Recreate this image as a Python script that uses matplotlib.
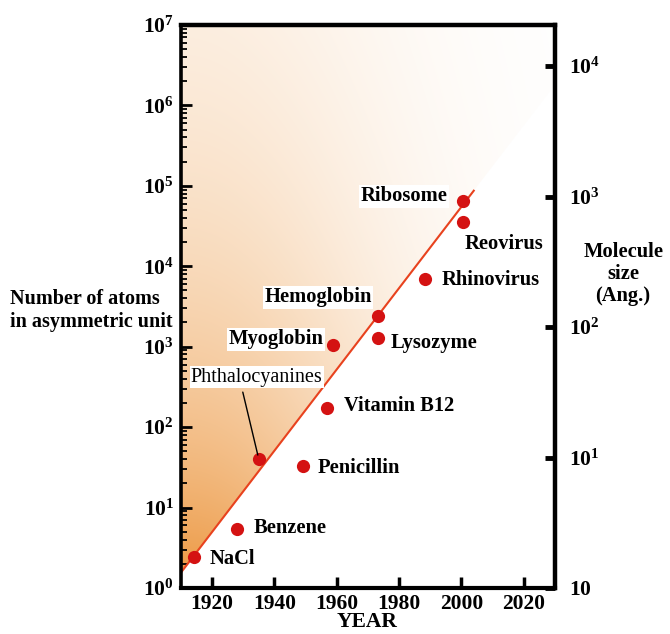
import numpy as np
import matplotlib
matplotlib.use("Agg")
import matplotlib.pyplot as plt
from matplotlib.patches import Polygon
from matplotlib.ticker import FixedLocator, NullLocator, LogLocator, NullFormatter

plt.rcParams["font.family"] = "Liberation Serif"
plt.rcParams["mathtext.fontset"] = "custom"
plt.rcParams["mathtext.rm"] = "Liberation Serif"
plt.rcParams["mathtext.bf"] = "Liberation Serif:bold"
plt.rcParams["mathtext.it"] = "Liberation Serif:italic"

# Structures solved, year of solution and number of atoms in the asymmetric unit
names = ["NaCl", "Benzene", "Phthalocyanines", "Penicillin", "Vitamin B12",
         "Myoglobin", "Hemoglobin", "Lysozyme", "Rhinovirus", "Reovirus", "Ribosome"]
years = [1914.3, 1927.9, 1935.0, 1949.2, 1956.9, 1958.9, 1973.3, 1973.3, 1988.3, 2000.4, 2000.4]
atoms = [2.4, 5.4, 40, 33, 175, 1040, 2390, 1290, 6850, 35300, 64600]

# Exponential trend line
trend_years = [1910, 2004]
trend_atoms = [1.55, 8.7e4]

# Axis ticks
year_ticks = [1920, 1940, 1960, 1980, 2000, 2020]
atom_ticks = [1e0, 1e1, 1e2, 1e3, 1e4, 1e5, 1e6, 1e7]
atom_labels = [r"$\mathbf{10^{%d}}$" % i for i in range(8)]
size_ticks = [1e0, 1e1, 1e2, 1e3, 1e4]
size_labels = [r"$\mathbf{10}$", r"$\mathbf{10^{1}}$", r"$\mathbf{10^{2}}$",
               r"$\mathbf{10^{3}}$", r"$\mathbf{10^{4}}$"]

# label placement (pixels: dx right, dy up), alignment, white box
label_style = {
    "NaCl": ((15, -2), "left", False),
    "Benzene": ((17, 1), "left", False),
    "Penicillin": ((15, -2), "left", False),
    "Vitamin B12": ((17, 2), "left", True),
    "Myoglobin": ((-10, 6), "right", True),
    "Hemoglobin": ((-60, 19), "center", True),
    "Lysozyme": ((12, -5), "left", False),
    "Rhinovirus": ((17, -1), "left", False),
    "Reovirus": ((41, -22), "center", False),
    "Ribosome": ((-15, 5), "right", True),
}

px = 0.72  # points per pixel at dpi 100

fig = plt.figure(figsize=(6.7, 6.34), dpi=100)
ax = fig.add_axes([0.270, 0.0726, 0.558, 0.888])
ax.set_yscale("log")
ax.set_xlim(1910, 2030)
ax.set_ylim(1, 1e7)

# Shaded region above the trend line, fading from orange to white
nu, nv = 300, 300
u = np.linspace(0, 1, nu)
v = np.linspace(0, 1, nv)
U, V = np.meshgrid(u, v)
alpha = np.exp(-1.8 * V) * np.exp(-3.0 * U ** 2)
base = np.array([236, 150, 62]) / 255.0
img = np.ones((nv, nu, 3))
for c in range(3):
    img[..., c] = 1 - alpha * (1 - base[c])
im = ax.imshow(img, extent=[0, 1, 0, 1], transform=ax.transAxes, origin="lower",
               aspect="auto", zorder=0, interpolation="bilinear")
slope = (np.log10(trend_atoms[1]) - np.log10(trend_atoms[0])) / (trend_years[1] - trend_years[0])
def trend(yr):
    return 10 ** (np.log10(trend_atoms[0]) + slope * (yr - trend_years[0]))
clip = Polygon([(1910, trend(1910)), (2030, trend(2030)), (2030, 1e7), (1910, 1e7)],
               closed=True, transform=ax.transData, facecolor="none", edgecolor="none")
im.set_clip_path(clip)
ax.set_xlim(1910, 2030)
ax.set_ylim(1, 1e7)

ax.plot(trend_years, trend_atoms, color="#e8421e", lw=1.5, zorder=2)
ax.plot(years, atoms, "o", color="#d41212", markersize=9.5, markeredgewidth=0, zorder=3)

for name, yr, n in zip(names, years, atoms):
    if name not in label_style:
        continue
    (dx, dy), ha, boxed = label_style[name]
    bbox = dict(facecolor="white", edgecolor="none", pad=1.0) if boxed else None
    ax.annotate(name, xy=(yr, n), xytext=(dx * px, dy * px), textcoords="offset points",
                ha=ha, va="center", fontsize=14.8, fontweight="bold", bbox=bbox, zorder=4)

# Phthalocyanines: label with leader line
i = names.index("Phthalocyanines")
ax.annotate("", xy=(years[i], atoms[i]), xytext=(-16 * px, 67 * px), textcoords="offset points",
            arrowprops=dict(arrowstyle="-", color="black", lw=1.0, shrinkA=0, shrinkB=3), zorder=4)
ax.annotate("Phthalocyanines", xy=(years[i], atoms[i]), xytext=(-2 * px, 82 * px),
            textcoords="offset points", ha="center", va="center", fontsize=14.5,
            bbox=dict(facecolor="white", edgecolor="none", pad=1.0), zorder=4)

# Left axis
ax.yaxis.set_major_locator(FixedLocator(atom_ticks))
ax.yaxis.set_minor_locator(LogLocator(base=10, subs=np.arange(2, 10)))
ax.yaxis.set_minor_formatter(NullFormatter())
ax.set_yticklabels(atom_labels)
ax.tick_params(axis="y", which="major", direction="in", length=8, width=2,
               labelsize=15.5, pad=5, right=False)
ax.tick_params(axis="y", which="minor", direction="in", length=4, width=1.3, right=False)

# Bottom axis
ax.xaxis.set_major_locator(FixedLocator(year_ticks))
ax.set_xticklabels([str(y) for y in year_ticks], fontweight="bold")
ax.tick_params(axis="x", which="major", direction="in", length=8, width=2.5,
               labelsize=15.5, pad=4, top=False)

for side, lw in [("top", 3.2), ("bottom", 3.0), ("left", 2.6), ("right", 3.2)]:
    ax.spines[side].set_linewidth(lw)

# Right axis: molecule size
ax2 = ax.twinx()
ax2.set_yscale("log")
ax2.set_ylim(1, 10 ** 4.316)
ax2.yaxis.set_major_locator(FixedLocator(size_ticks))
ax2.yaxis.set_minor_locator(NullLocator())
ax2.set_yticklabels(size_labels)
ax2.tick_params(axis="y", which="major", direction="in", length=7, width=3.5,
                labelsize=15.5, pad=10)
for s in ax2.spines.values():
    s.set_visible(False)

fig.text(0.015, 0.511, "Number of atoms\nin asymmetric unit", ha="left", va="center",
         fontsize=14.5, fontweight="bold", linespacing=1.2)
fig.text(0.930, 0.568, "Molecule\nsize\n(Ang.)", ha="center", va="center",
         fontsize=14.8, fontweight="bold", linespacing=1.15)
fig.text(0.548, 0.003, "YEAR", ha="center", va="bottom", fontsize=15.5, fontweight="bold")

fig.savefig("out.png", dpi=100)
